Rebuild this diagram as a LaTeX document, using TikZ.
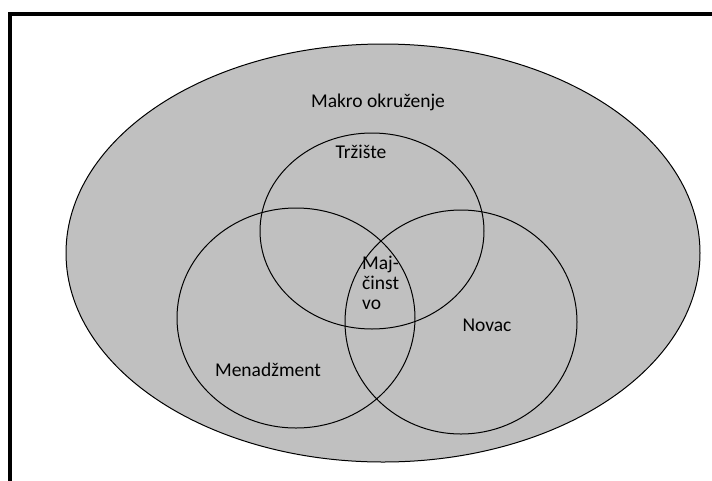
\documentclass[tikz,border=0pt]{standalone}
\usepackage{fontspec}
\setmainfont{Carlito}
\definecolor{okruzenje}{RGB}{192,192,192}
\tikzset{
	krug/.style={draw=black, line width=1pt},
	natpis/.style={inner sep=0pt, font=\fontsize{19.5}{20}\selectfont}
}
\begin{document}
\begin{tikzpicture}[x=1pt, y=-1pt]
	\useasboundingbox (0,0) rectangle (712,480);
	\clip (0,0) rectangle (712,480);
	\fill[white] (0,0) rectangle (712,480);
	\draw[line width=4pt] (10,14) rectangle (730,500);
	
	\draw[krug, fill=okruzenje] (383,253) ellipse [x radius=317pt, y radius=209pt];
	\draw[krug] (372,231) ellipse [x radius=112pt, y radius=98pt];
	\draw[krug] (296,318) ellipse [x radius=119pt, y radius=110pt];
	\draw[krug] (461,322) ellipse [x radius=116pt, y radius=112pt];
	
	\node[natpis] (makro) at (378,102) {Makro okruženje};
	\node[natpis] (trziste) at (361,152) {Tržište};
	\node[natpis, anchor=west, align=left] (majcinstvo) at (362,283) {Maj-\\činst\\vo};
	\node[natpis] (novac) at (487,325) {Novac};
	\node[natpis] (menadzment) at (268,370) {Menadžment};
\end{tikzpicture}
\end{document}
